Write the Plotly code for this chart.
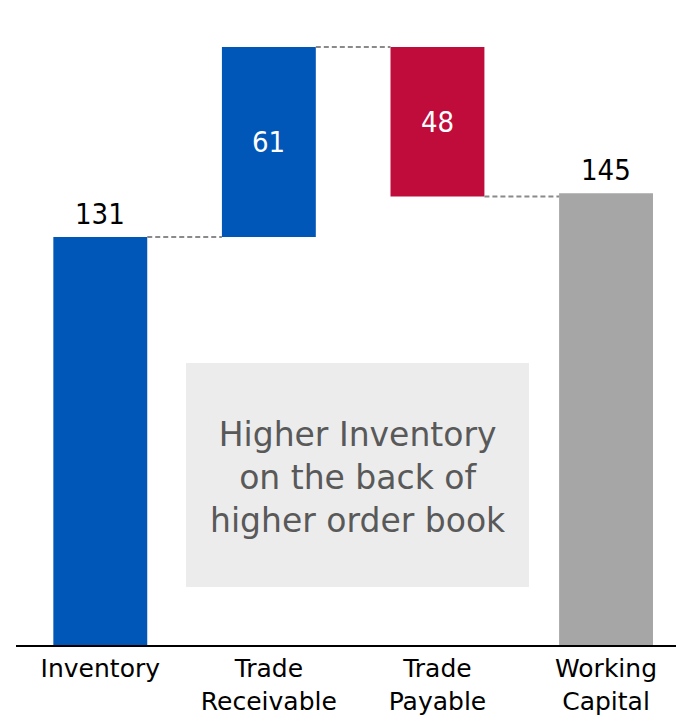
import plotly.graph_objects as go

# Working capital bridge
categories = ["Inventory", "Trade<br>Receivable", "Trade<br>Payable", "Working<br>Capital"]
values = [131, 61, 48, 145]
kinds = ["total", "increase", "decrease", "total"]
colors = ["#0057B8", "#0057B8", "#C00C3B", "#A6A6A6"]
note_text = "Higher Inventory<br>on the back of<br>higher order book"

TEXT_FONT = "DejaVu Sans"
NUM_FONT = "DejaVu Sans Condensed"
BAR_GAP = 0.443

# Floating bar bases and running levels
bases, levels = [], []
running = 0
for v, k in zip(values, kinds):
    if k == "total":
        bases.append(0)
        running = v
    elif k == "increase":
        bases.append(running)
        running += v
    else:
        running -= v
        bases.append(running)
    levels.append(running)

xs = list(range(len(categories)))

fig = go.Figure()
fig.add_trace(go.Bar(
    x=xs, y=values, base=bases,
    marker=dict(color=colors, line=dict(width=0)),
    hoverinfo="skip",
))

# Value labels: above total bars, centered inside floating bars
for i, (v, b, k) in enumerate(zip(values, bases, kinds)):
    if k == "total":
        fig.add_annotation(x=i, y=b + v, text=str(v), showarrow=False,
                           yanchor="bottom", yshift=4,
                           font=dict(family=NUM_FONT, size=29, color="#000000"))
    else:
        fig.add_annotation(x=i, y=b + v / 2, text=str(v), showarrow=False,
                           yanchor="middle",
                           font=dict(family=NUM_FONT, size=29, color="#FFFFFF"))

# Dashed connectors between consecutive bars
half = (1 - BAR_GAP) / 2
for i in range(len(values) - 1):
    fig.add_shape(type="line", xref="x", yref="y",
                  x0=i + half, x1=i + 1 - half, y0=levels[i], y1=levels[i],
                  line=dict(color="#8A8A8A", width=2, dash="5px,3px"))

# Commentary box
fig.add_shape(type="rect", xref="paper", yref="paper",
              x0=(186 - 16) / 660, x1=(529 - 16) / 660,
              y0=(645 - 587) / 623, y1=(645 - 363) / 623,
              fillcolor="#ECECEC", line=dict(width=0), layer="below")
fig.add_annotation(xref="paper", yref="paper",
                   x=(357.5 - 16) / 660, y=(645 - 477) / 623,
                   xanchor="center", yanchor="middle",
                   text=note_text, showarrow=False, align="center",
                   font=dict(family=TEXT_FONT, size=33, color="#595959"))

fig.update_layout(
    width=676, height=717,
    margin=dict(l=16, r=0, t=22, b=72),
    paper_bgcolor="white", plot_bgcolor="white",
    showlegend=False, bargap=BAR_GAP,
    xaxis=dict(
        tickmode="array", tickvals=xs, ticktext=categories,
        range=[-0.5, 3.415], showgrid=False, zeroline=False,
        showline=True, linecolor="#000000", linewidth=2,
        ticks="", tickfont=dict(family=TEXT_FONT, size=25, color="#000000"),
    ),
    yaxis=dict(range=[0, 200], visible=False, showgrid=False, zeroline=False),
)

fig.write_html("out.html")
